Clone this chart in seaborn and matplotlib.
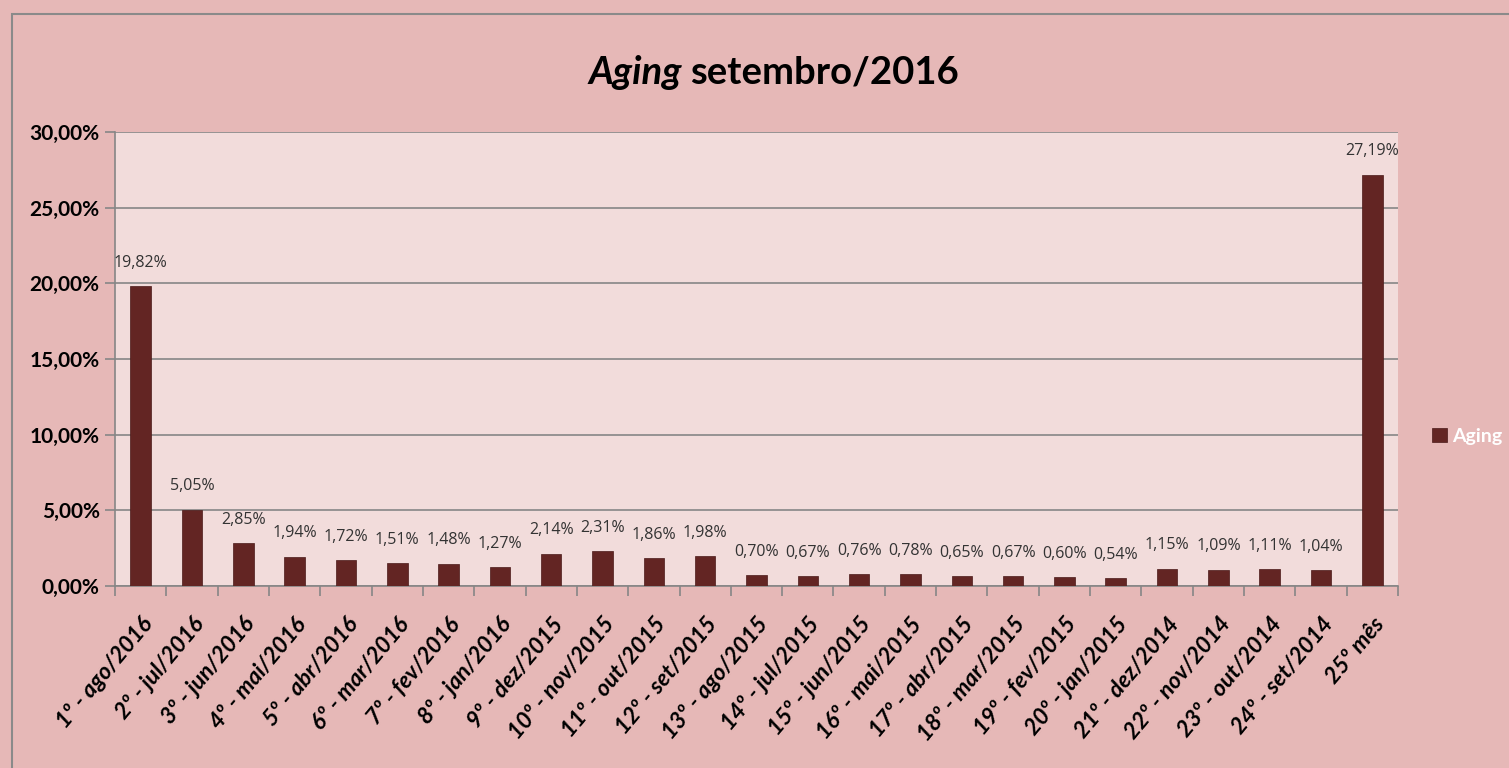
import matplotlib
matplotlib.use("Agg")
import matplotlib.pyplot as plt
import seaborn as sns
import pandas as pd
from matplotlib.patches import Rectangle

categories = ["1º - ago/2016", "2º - jul/2016", "3º - jun/2016", "4º - mai/2016", "5º - abr/2016",
              "6º - mar/2016", "7º - fev/2016", "8º - jan/2016", "9º - dez/2015", "10º - nov/2015",
              "11º - out/2015", "12º - set/2015", "13º - ago/2015", "14º - jul/2015", "15º - jun/2015",
              "16º - mai/2015", "17º - abr/2015", "18º - mar/2015", "19º - fev/2015", "20º - jan/2015",
              "21º - dez/2014", "22º - nov/2014", "23º - out/2014", "24º - set/2014", "25º mês"]
values = [19.82, 5.05, 2.85, 1.94, 1.72, 1.51, 1.48, 1.27, 2.14, 2.31, 1.86, 1.98, 0.70, 0.67, 0.76,
          0.78, 0.65, 0.67, 0.60, 0.54, 1.15, 1.09, 1.11, 1.04, 27.19]
yticks = [0, 5, 10, 15, 20, 25, 30]

sns.set_theme(style="white")
plt.rcParams['font.family'] = ['Lato', 'DejaVu Sans']
plt.rcParams['text.color'] = 'black'
plt.rcParams['xtick.color'] = 'black'
plt.rcParams['ytick.color'] = 'black'

W, H = 1509, 768
fig = plt.figure(figsize=(W / 100, H / 100), dpi=100)
fig.patch.set_facecolor("#E6B8B7")
fig.patches.append(Rectangle((12 / W, -0.1), 1.2, (1 - 14 / H) + 0.1, transform=fig.transFigure,
                             fill=False, edgecolor="#8a8a8a", linewidth=1.5, zorder=0))

ax = fig.add_axes([115 / W, 1 - 586 / H, (1398 - 115) / W, (586 - 132) / H])
ax.set_facecolor("#F2DCDB")

df = pd.DataFrame({"cat": categories, "val": values})
sns.barplot(data=df, x="cat", y="val", color="#632523", width=0.4, saturation=1, ax=ax, zorder=3,
            label="Aging")
for p in ax.patches:
    p.set_edgecolor("#4a1a19")
    p.set_linewidth(0.5)

ax.bar_label(ax.containers[0], labels=[f"{v:.2f}%".replace(".", ",") for v in values],
             padding=11, fontsize=11.5, color="#333333", family=['Open Sans', 'DejaVu Sans'])

ax.set_ylim(0, 30)
ax.set_xlim(-0.5, len(categories) - 0.5)
ax.set_yticks(yticks)
ax.set_yticklabels([f"{t:.2f}%".replace(".", ",") for t in yticks], fontsize=15, fontweight="bold")
ax.yaxis.grid(True, color="#868686", linewidth=1.2, zorder=0)
ax.set_axisbelow(True)

ax.set_xticks(range(len(categories)))
ax.set_xticklabels(categories, rotation=50, ha="right", rotation_mode="anchor",
                   fontsize=16.5, fontweight="bold", fontstyle="italic")
ax.tick_params(axis="x", length=0, pad=20)
ax.set_xticks([i - 0.5 for i in range(len(categories) + 1)], minor=True)
ax.tick_params(axis="x", which="minor", length=7, color="#868686", width=1.2, bottom=True)
ax.tick_params(axis="y", length=7, color="#868686", labelcolor="black", width=1.2, left=True, pad=4)
ax.set_xlabel("")
ax.set_ylabel("")

for s in ["top", "right"]:
    ax.spines[s].set_visible(False)
for s in ["left", "bottom"]:
    ax.spines[s].set_color("#868686")
    ax.spines[s].set_linewidth(1.2)

fig.text(682 / W, 1 - 72 / H, "Aging", ha="right", va="center", fontsize=27.5,
         fontweight="bold", fontstyle="italic")
fig.text(690 / W, 1 - 72 / H, "setembro/2016", ha="left", va="center", fontsize=27.5, fontweight="bold")

leg = ax.legend(loc="center left", bbox_to_anchor=((1432 - 115) / (1398 - 115), 0.33), frameon=False,
                borderaxespad=0, borderpad=0,
                handlelength=0.75, handleheight=0.75, handletextpad=0.3,
                prop={"weight": "bold", "size": 14})
for t in leg.get_texts():
    t.set_color("white")

fig.savefig("out.png", dpi=100, facecolor=fig.get_facecolor())
